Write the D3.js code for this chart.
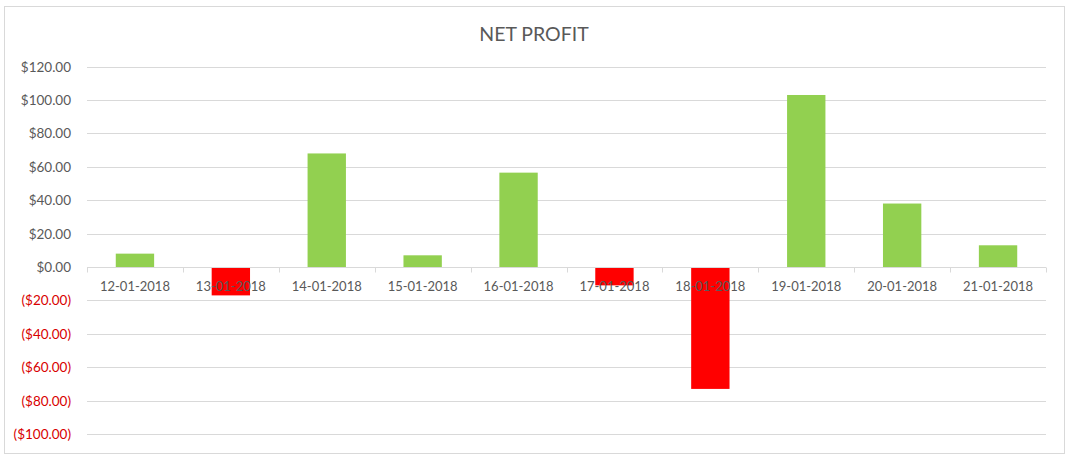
<!DOCTYPE html>
<html>
<head>
<meta charset="utf-8">
<script src="https://cdn.jsdelivr.net/npm/d3@7"></script>
<style>
  body { margin: 0; background: #fff; }
  svg { display: block; font-family: Lato, "Open Sans", sans-serif; }
</style>
</head>
<body>
<svg id="svg" width="1070" height="457"></svg>
<script>
// dates and net profit per day
var dates = ["12-01-2018","13-01-2018","14-01-2018","15-01-2018","16-01-2018",
             "17-01-2018","18-01-2018","19-01-2018","20-01-2018","21-01-2018"];
var profit = [8, -17, 68, 7, 56.5, -11, -73, 103, 38, 13];
var yTicks = [-100, -80, -60, -40, -20, 0, 20, 40, 60, 80, 100, 120];

var svg = d3.select("#svg");
var plotLeft = 87, plotRight = 1046, plotTop = 66.6, plotBottom = 434;

// chart border
svg.append("rect")
    .attr("x", 4.5).attr("y", 6.5)
    .attr("width", 1060).attr("height", 447)
    .attr("fill", "#fff").attr("stroke", "#d9d9d9");

var x = d3.scaleBand().domain(dates).range([plotLeft, plotRight]).paddingInner(0).paddingOuter(0);
var y = d3.scaleLinear().domain([-100, 120]).range([plotBottom, plotTop]);

// gridlines
svg.append("g").selectAll("line").data(yTicks).enter().append("line")
    .attr("x1", plotLeft).attr("x2", plotRight)
    .attr("y1", function(d){return Math.round(y(d)) + 0.5})
    .attr("y2", function(d){return Math.round(y(d)) + 0.5})
    .attr("stroke", "#d9d9d9");

// y labels
var fmt = function(d){
    var s = "$" + Math.abs(d).toFixed(2);
    return d < 0 ? "(" + s + ")" : s;
};
svg.append("g").selectAll("text").data(yTicks).enter().append("text")
    .attr("x", 71)
    .attr("y", function(d){return y(d) + 5})
    .attr("text-anchor", "end")
    .attr("font-size", 13.5)
    .attr("fill", function(d){return d < 0 ? "#d80000" : "#595959"})
    .text(fmt);

// bars
var bw = x.bandwidth() / 2.5;
svg.append("g").selectAll("rect").data(profit).enter().append("rect")
    .attr("x", function(d, i){return x(dates[i]) + (x.bandwidth() - bw) / 2})
    .attr("y", function(d){return y(Math.max(d, 0))})
    .attr("width", bw)
    .attr("height", function(d){return Math.abs(y(d) - y(0))})
    .attr("fill", function(d){return d < 0 ? "#ff0000" : "#92d050"});

// x axis line and ticks
var y0 = Math.round(y(0)) + 0.5;
svg.append("line")
    .attr("x1", plotLeft).attr("x2", plotRight)
    .attr("y1", y0).attr("y2", y0)
    .attr("stroke", "#d9d9d9");
var edges = dates.map(function(d){return x(d)}).concat([plotRight]);
svg.append("g").selectAll("line").data(edges).enter().append("line")
    .attr("x1", function(d){return Math.round(d) + 0.5})
    .attr("x2", function(d){return Math.round(d) + 0.5})
    .attr("y1", y0).attr("y2", y0 + 5)
    .attr("stroke", "#d9d9d9");

// x labels
svg.append("g").selectAll("text").data(dates).enter().append("text")
    .attr("x", function(d){return x(d) + x.bandwidth() / 2})
    .attr("y", y0 + 23.5)
    .attr("text-anchor", "middle")
    .attr("font-size", 13)
    .attr("fill", "#595959")
    .text(function(d){return d});

// title
svg.append("text")
    .attr("x", 534).attr("y", 41)
    .attr("text-anchor", "middle")
    .attr("font-size", 19.5)
    .attr("fill", "#595959")
    .text("NET PROFIT");
</script>
</body>
</html>
